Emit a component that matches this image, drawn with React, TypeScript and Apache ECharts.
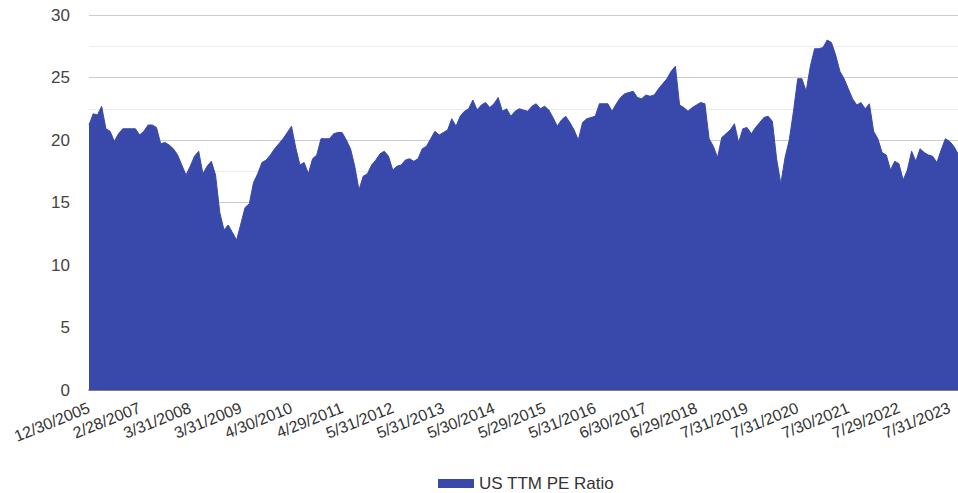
import React, { useEffect, useRef } from "react";
import * as echarts from "echarts";

// Months (year, month 1-12) missing from the monthly series
const skippedMonths: [number, number][] = [
  [2006, 5], [2006, 10], [2007, 9], [2009, 10], [2011, 11], [2016, 12], [2018, 12],
];
const firstMonth: [number, number] = [2005, 12];
const lastMonth: [number, number] = [2023, 9];

// US trailing-twelve-month P/E ratio, one value per category
const peValues: number[] = [
  21.2, 22.1, 22.0, 22.7, 20.9, 20.7, 19.9, 20.5, 20.9, 20.9,
  20.9, 20.9, 20.4, 20.7, 21.2, 21.2, 21.0, 19.7, 19.8, 19.6,
  19.3, 18.8, 18.0, 17.2, 17.9, 18.7, 19.1, 17.3, 17.9, 18.3,
  17.2, 14.2, 12.8, 13.2, 12.6, 12.0, 13.3, 14.6, 14.9, 16.6,
  17.3, 18.2, 18.4, 18.8, 19.3, 19.7, 20.1, 20.6, 21.1, 19.4,
  18.0, 18.2, 17.3, 18.5, 18.8, 20.1, 20.1, 20.1, 20.5, 20.6,
  20.6, 20.0, 19.3, 17.9, 16.0, 17.1, 17.3, 18.0, 18.4, 18.9,
  19.1, 18.7, 17.6, 17.9, 18.0, 18.4, 18.5, 18.3, 18.5, 19.3,
  19.5, 20.1, 20.7, 20.4, 20.6, 20.8, 21.7, 21.1, 21.9, 22.3,
  22.5, 23.2, 22.4, 22.8, 23.0, 22.6, 22.9, 23.4, 22.3, 22.5,
  21.9, 22.3, 22.5, 22.4, 22.3, 22.7, 22.9, 22.5, 22.7, 22.4,
  21.8, 21.1, 21.6, 21.9, 21.4, 20.8, 20.0, 21.4, 21.7, 21.8,
  21.9, 22.9, 22.9, 22.9, 22.3, 22.9, 23.4, 23.7, 23.8, 23.9,
  23.4, 23.3, 23.6, 23.5, 23.6, 24.1, 24.5, 24.9, 25.5, 25.9,
  22.8, 22.6, 22.3, 22.6, 22.8, 23.0, 22.9, 20.1, 19.5, 18.6,
  20.2, 20.5, 20.8, 21.3, 19.8, 20.9, 21.0, 20.5, 21.0, 21.4,
  21.8, 21.9, 21.5, 18.5, 16.5, 18.6, 20.0, 22.3, 24.9, 24.9,
  23.9, 25.9, 27.3, 27.3, 27.4, 28.0, 27.8, 26.8, 25.5, 24.9,
  24.1, 23.3, 22.8, 23.0, 22.5, 22.9, 20.7, 20.1, 19.0, 18.8,
  17.6, 18.3, 18.1, 16.8, 17.6, 19.1, 18.3, 19.3, 19.0, 18.8,
  18.7, 18.2, 19.2, 20.1, 19.9, 19.5, 18.9,
];

const seriesName = "US TTM PE Ratio";
const yTicks = { min: 0, max: 30, interval: 5 };

function lastBusinessDay(y: number, m: number): string {
  const d = new Date(Date.UTC(y, m, 0));
  while (d.getUTCDay() === 0 || d.getUTCDay() === 6) d.setUTCDate(d.getUTCDate() - 1);
  return `${d.getUTCMonth() + 1}/${d.getUTCDate()}/${d.getUTCFullYear()}`;
}

function buildCategories(): string[] {
  const out: string[] = [];
  let [y, m] = firstMonth;
  while (y < lastMonth[0] || (y === lastMonth[0] && m <= lastMonth[1])) {
    if (!skippedMonths.some(([sy, sm]) => sy === y && sm === m)) out.push(lastBusinessDay(y, m));
    m++;
    if (m > 12) { m = 1; y++; }
  }
  return out;
}

const categories = buildCategories();

export default function App() {
  const ref = useRef<HTMLDivElement>(null);
  useEffect(() => {
    if (!ref.current) return;
    const chart = echarts.init(ref.current, undefined, { renderer: "svg" });
    const font = "'Liberation Sans', Arial, sans-serif";
    chart.setOption({
      animation: false,
      backgroundColor: "#ffffff",
      grid: { left: 89, right: 0, top: 15, bottom: 103, containLabel: false },
      legend: {
        data: [seriesName],
        left: 433,
        top: 470,
        icon: "rect",
        itemWidth: 36,
        itemHeight: 9,
        itemGap: 8,
        textStyle: { fontSize: 17, color: "#333", fontFamily: font },
      },
      xAxis: {
        type: "category",
        data: categories,
        boundaryGap: false,
        axisLine: { show: true, lineStyle: { color: "#666", width: 1.5 } },
        axisTick: { show: false },
        splitLine: { show: false },
        axisLabel: {
          interval: 11,
          rotate: 22,
          margin: 17,
          fontSize: 16,
          color: "#333",
          fontFamily: font,
        },
      },
      yAxis: {
        type: "value",
        min: yTicks.min,
        max: yTicks.max,
        interval: yTicks.interval,
        axisLine: { show: false },
        axisTick: { show: false },
        axisLabel: { fontSize: 17, color: "#444", margin: 19, fontFamily: font },
        splitLine: { show: true, lineStyle: { color: "#cccccc", width: 1 } },
        minorTick: { show: false, splitNumber: 2 },
        minorSplitLine: { show: true, lineStyle: { color: "#ebebeb", width: 1 } },
      },
      series: [
        {
          name: seriesName,
          type: "line",
          data: peValues,
          symbol: "none",
          lineStyle: { color: "#3949AB", width: 1 },
          itemStyle: { color: "#3949AB" },
          areaStyle: { color: "#3949AB", opacity: 1 },
        },
      ],
    });
    return () => chart.dispose();
  }, []);
  return (
    <div
      ref={ref}
      style={{ position: "fixed", left: 0, top: 0, width: 958, height: 493, background: "#fff" }}
    />
  );
}
